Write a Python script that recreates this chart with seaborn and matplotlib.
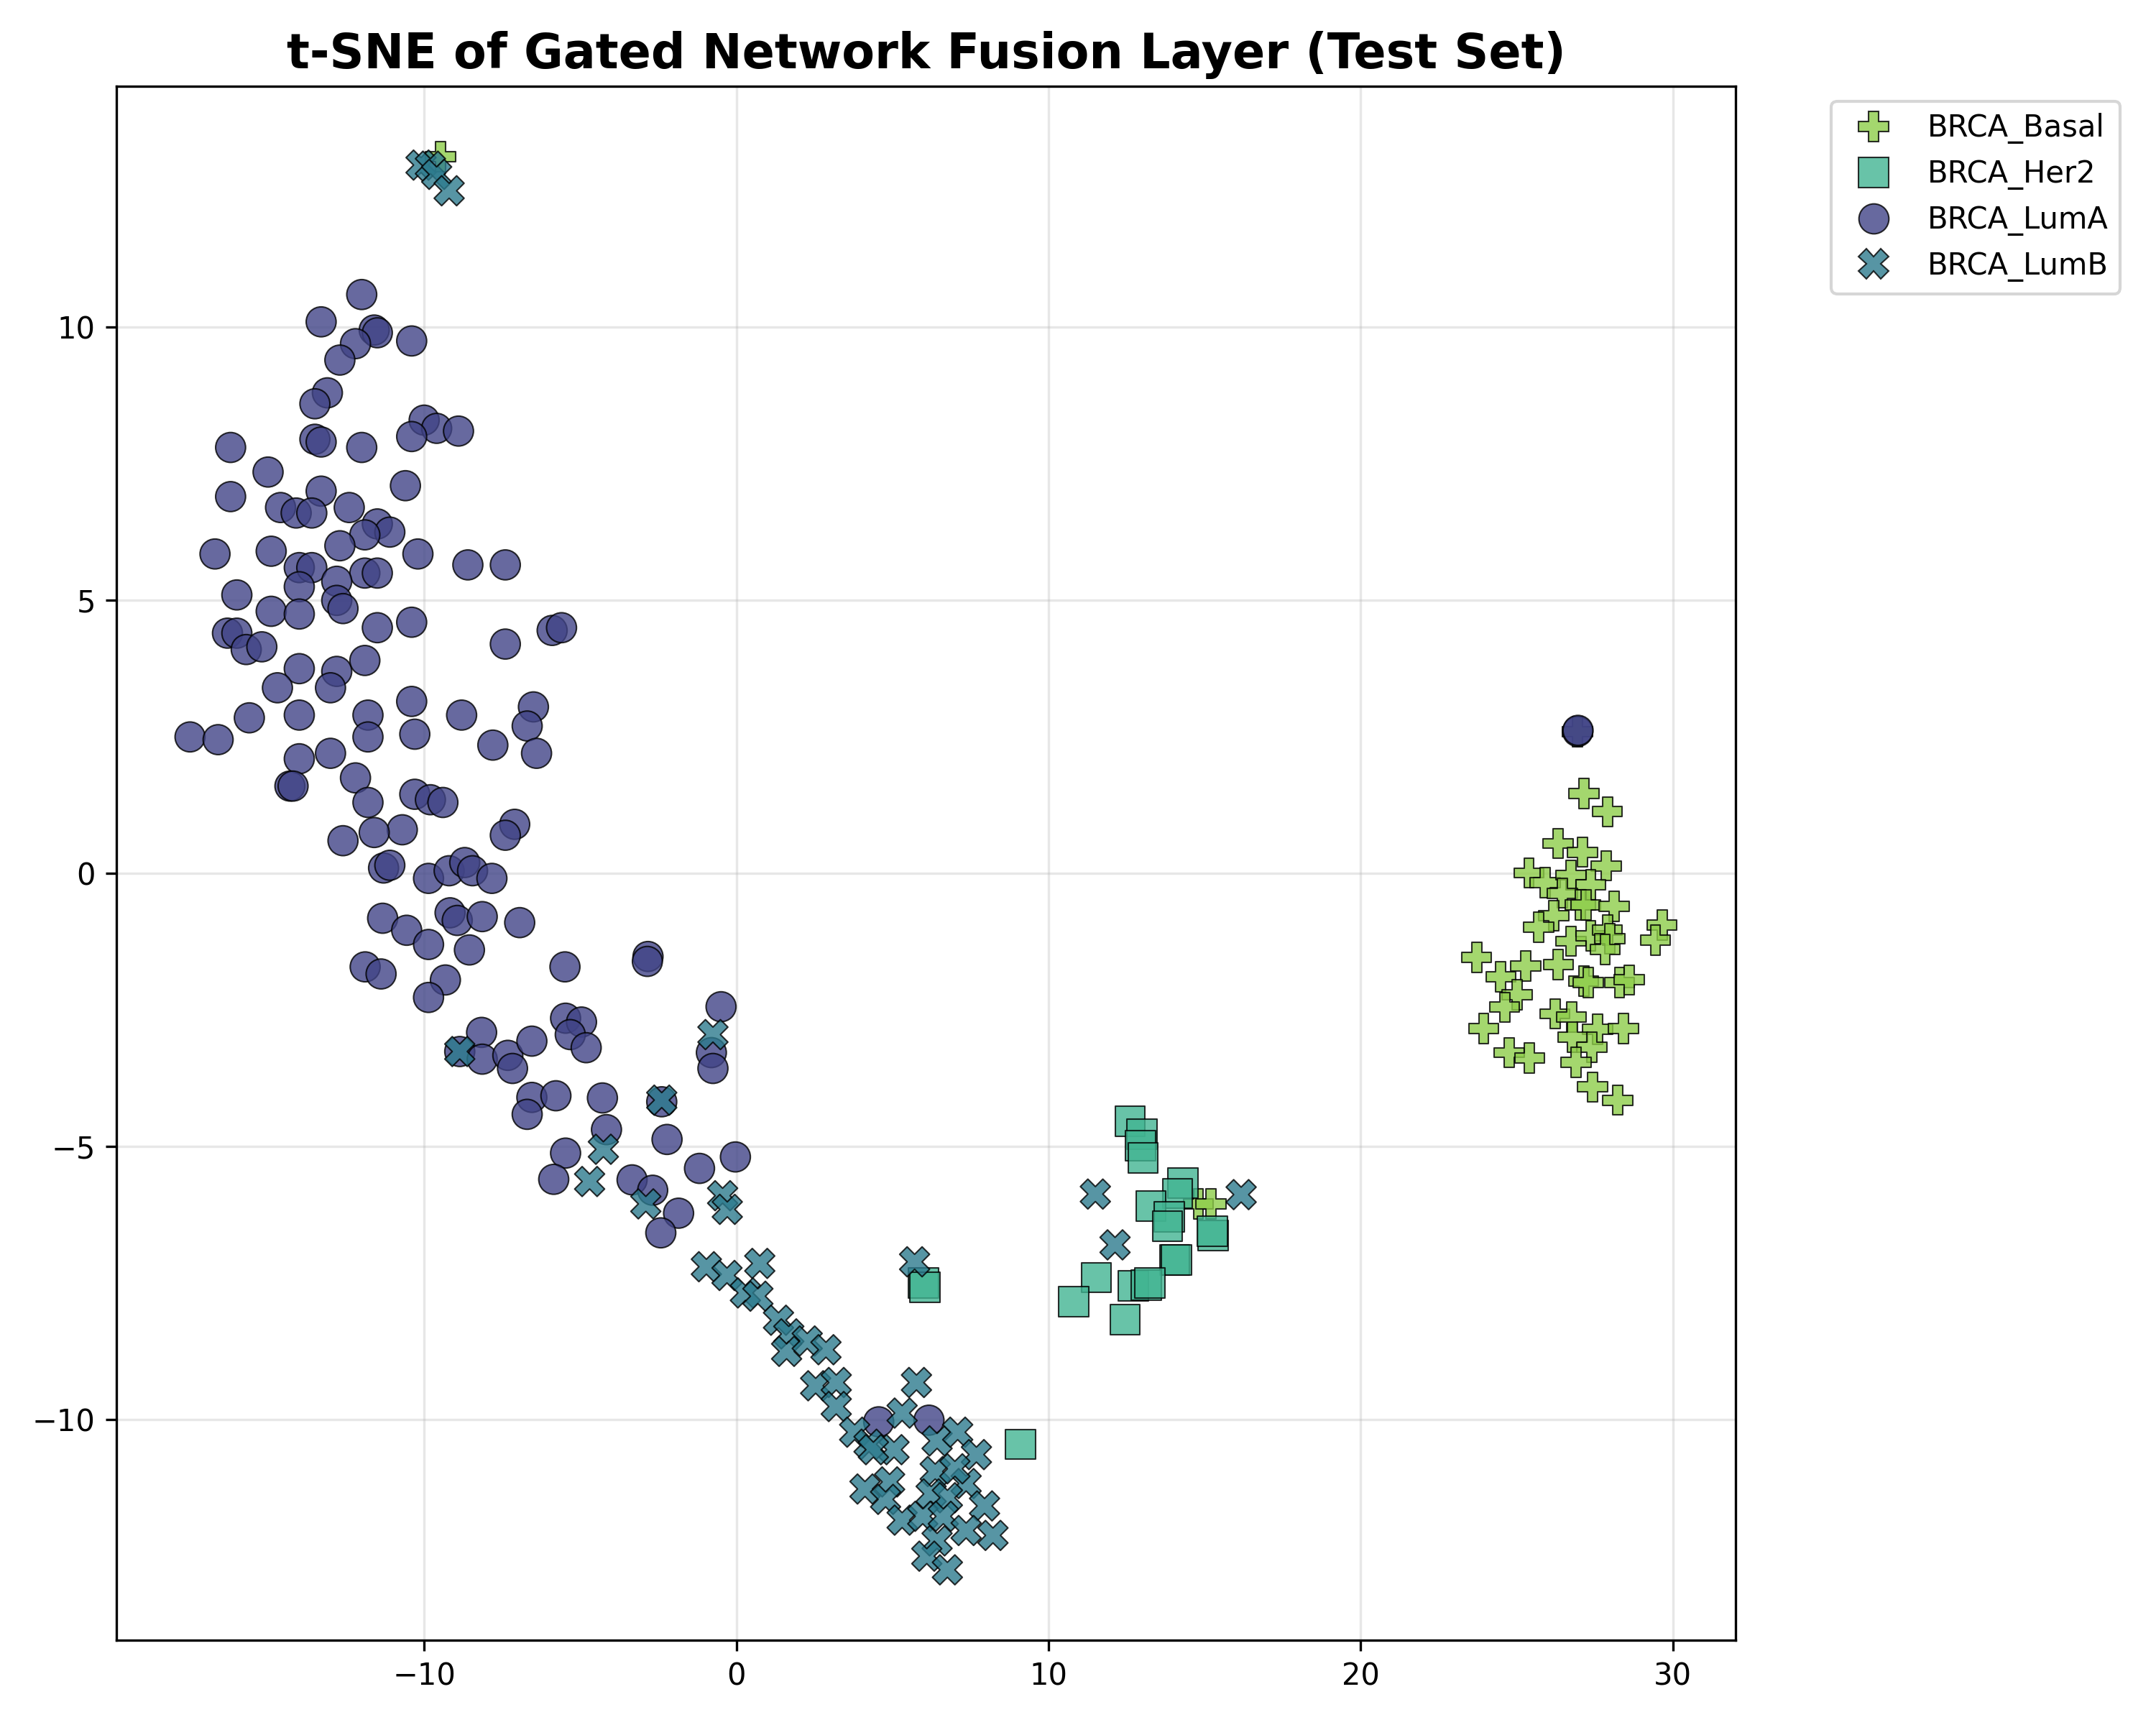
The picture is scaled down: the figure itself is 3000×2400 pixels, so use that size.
import matplotlib
matplotlib.use("Agg")
import matplotlib.pyplot as plt
import seaborn as sns
import pandas as pd

# ---------------- data ----------------
categories = ["BRCA_Basal", "BRCA_Her2", "BRCA_LumA", "BRCA_LumB"]

basal_x = [-9.47, 14.8, 15.2, 26.95,
           27.15, 27.9, 26.32, 27.1, 27.87, 25.39, 25.9, 26.73, 27.37, 26.46,
           27.04, 27.21, 28.12, 26.18, 25.7, 29.65, 29.44, 26.74, 27.37, 27.9,
           27.98, 27.83, 23.71, 26.33, 25.28, 24.49, 27.14, 27.29, 28.29, 28.6,
           25.01, 24.61, 26.22, 26.75, 27.58, 28.42, 23.94, 26.79, 27.41, 24.76,
           25.41, 26.89, 27.43, 28.23]
basal_y = [13.12, -6.05, -6.05, 2.6,
           1.46, 1.13, 0.55, 0.39, 0.14, 0.01, -0.17, -0.03, -0.21, -0.36,
           -0.58, -0.58, -0.6, -0.77, -0.98, -0.94, -1.22, -1.24, -1.14, -1.04,
           -1.19, -1.39, -1.54, -1.67, -1.69, -1.89, -1.97, -2.0, -2.0, -1.95,
           -2.22, -2.45, -2.57, -2.63, -2.85, -2.84, -2.84, -3.0, -3.18, -3.28,
           -3.38, -3.46, -3.91, -4.15]

her2_x = [12.61, 13.0, 12.94, 13.03, 14.3, 14.13, 13.28, 13.87, 13.81, 15.27,
          15.25, 14.04, 14.1, 11.53, 10.8, 12.71, 13.13, 13.24, 12.45, 9.1,
          6.0, 6.04]
her2_y = [-4.54, -4.77, -4.98, -5.21, -5.67, -5.86, -6.09, -6.29, -6.46, -6.63,
          -6.55, -7.08, -7.08, -7.4, -7.84, -7.55, -7.54, -7.5, -8.17, -10.45,
          -7.5, -7.58]

luma_x = [-12.0, -13.3, -11.6, -11.5, -12.2, -10.4, -12.7, -13.1, -13.5, -10.0,
          -9.6, -8.9, -10.4, -13.5, -13.3, -12.0, -16.2, -15.0, -10.6, -13.3,
          -16.2, -12.4, -14.6, -14.1, -13.6, -11.5, -11.1, -11.9, -16.7, -14.9,
          -10.2, -12.7, -8.6, -7.4, -14.0, -13.6, -11.9, -11.5, -12.8, -14.0,
          -16.0, -12.8, -12.6, -14.9, -14.0, -10.4, -11.5, -5.9, -5.6, -16.3,
          -16.0, -15.7, -15.2, -7.4, -12.8, -14.0, -11.9, -14.7, -13.0, -6.5,
          -10.4, -8.8, -11.8, -14.0, -15.6, -6.7, -17.5, -16.6, -11.8, -10.3,
          -7.8, -13.0, -6.4, -14.0, -12.2, -14.3, -14.2, -10.3, -9.8, -9.4,
          -11.8, -7.1, -7.4, -10.7, -11.6, -12.6,
          -11.3, -11.1, -9.86, -9.2, -8.7, -8.45, -7.83, -11.33, -9.17, -8.94,
          -8.14, -6.94, -10.56, -9.86, -8.55, -11.89, -11.38, -9.32, -9.86, -5.49,
          -2.83, -2.85, -0.49, -5.47, -4.96, -5.32, -4.81, -8.16, -8.86, -8.14,
          -7.32, -7.17, -6.55, -0.8, -0.75, -6.55, -5.78, -6.7, -4.29, -2.39,
          -4.16, -2.22, -0.03, -5.47, -1.18, -5.85, -3.34, -2.68, -1.85, -2.42,
          4.56, 6.17, 26.95, 26.96]
luma_y = [10.6, 10.1, 9.95, 9.9, 9.7, 9.75, 9.4, 8.8, 8.6, 8.3,
          8.15, 8.1, 8.0, 7.95, 7.9, 7.8, 7.8, 7.35, 7.1, 7.0,
          6.9, 6.7, 6.7, 6.6, 6.6, 6.4, 6.25, 6.2, 5.85, 5.9,
          5.85, 6.0, 5.65, 5.65, 5.6, 5.6, 5.5, 5.5, 5.35, 5.25,
          5.1, 5.0, 4.85, 4.8, 4.75, 4.6, 4.5, 4.45, 4.5, 4.4,
          4.4, 4.1, 4.15, 4.2, 3.7, 3.75, 3.9, 3.4, 3.4, 3.05,
          3.15, 2.9, 2.9, 2.9, 2.85, 2.7, 2.5, 2.45, 2.5, 2.55,
          2.35, 2.2, 2.2, 2.1, 1.75, 1.6, 1.6, 1.45, 1.35, 1.3,
          1.3, 0.9, 0.7, 0.8, 0.75, 0.6,
          0.1, 0.15, -0.09, 0.05, 0.2, 0.05, -0.09, -0.82, -0.72, -0.86,
          -0.79, -0.9, -1.04, -1.3, -1.4, -1.71, -1.84, -1.95, -2.27, -1.71,
          -1.52, -1.61, -2.44, -2.65, -2.72, -2.95, -3.19, -2.91, -3.26, -3.4,
          -3.33, -3.57, -3.07, -3.28, -3.57, -4.1, -4.07, -4.41, -4.11, -4.18,
          -4.69, -4.87, -5.19, -5.12, -5.4, -5.6, -5.61, -5.8, -6.22, -6.58,
          -10.04, -10.01, 2.6, 2.62]

lumb_x = [-10.1, -9.8, -9.6, -9.2, -8.86, -0.75, -2.39, -4.26, -4.7, -2.9,
          -0.44, -0.29, -0.96, -0.3, 0.75, 0.29, 0.69, 1.35, 1.68, 1.61,
          2.27, 2.87, 2.54, 3.2, 3.2, 3.79, 4.25, 5.31, 5.77, 5.71,
          5.05, 4.12, 4.91, 4.78, 6.43, 7.09, 7.69, 6.37, 7.36, 6.24,
          6.76, 7.95, 5.31, 5.97, 6.63, 7.36, 8.22, 6.43, 6.1, 6.76,
          4.39, 7.0, 11.5, 16.17, 12.13]
lumb_y = [12.97, 12.95, 12.8, 12.5, -3.26, -2.95, -4.15, -5.05, -5.64, -6.05,
          -5.9, -6.15, -7.2, -7.36, -7.14, -7.68, -7.74, -8.18, -8.43, -8.75,
          -8.56, -8.72, -9.38, -9.32, -9.76, -10.23, -10.45, -9.88, -9.32, -7.11,
          -10.55, -11.27, -11.14, -11.46, -10.39, -10.23, -10.64, -10.95, -11.17, -11.36,
          -11.43, -11.58, -11.84, -11.77, -11.77, -12.03, -12.12, -12.22, -12.5, -12.75,
          -10.55, -10.9, -5.87, -5.88, -6.8]

palette = {"BRCA_Basal": "#8ecd4a", "BRCA_Her2": "#42b592",
           "BRCA_LumA": "#414487", "BRCA_LumB": "#2d7b8e"}
markers = {"BRCA_Basal": "P", "BRCA_Her2": "s",
           "BRCA_LumA": "o", "BRCA_LumB": "X"}

# ---------------- build frame ----------------
frames = []
for lab, xs, ys in [("BRCA_Basal", basal_x, basal_y),
                    ("BRCA_Her2", her2_x, her2_y),
                    ("BRCA_LumA", luma_x, luma_y),
                    ("BRCA_LumB", lumb_x, lumb_y)]:
    frames.append(pd.DataFrame({"x": xs, "y": ys, "label": lab}))
df = pd.concat(frames, ignore_index=True)

# ---------------- plot ----------------
fig, ax = plt.subplots(figsize=(10, 8), dpi=300)
sns.scatterplot(data=df, x="x", y="y", hue="label", style="label",
                hue_order=categories, style_order=categories,
                palette=palette, markers=markers, s=100, alpha=0.8,
                edgecolor="black", linewidth=0.5, ax=ax)
ax.grid(True, alpha=0.3)
ax.set_axisbelow(True)
ax.set_xlabel("")
ax.set_ylabel("")
ax.set_title("t-SNE of Gated Network Fusion Layer (Test Set)",
             fontsize=16, fontweight="bold")
ax.legend(bbox_to_anchor=(1.05, 1), loc="upper left")
fig.subplots_adjust(left=0.054, right=0.805, top=0.950, bottom=0.049)
fig.savefig("out.png", dpi=300)
